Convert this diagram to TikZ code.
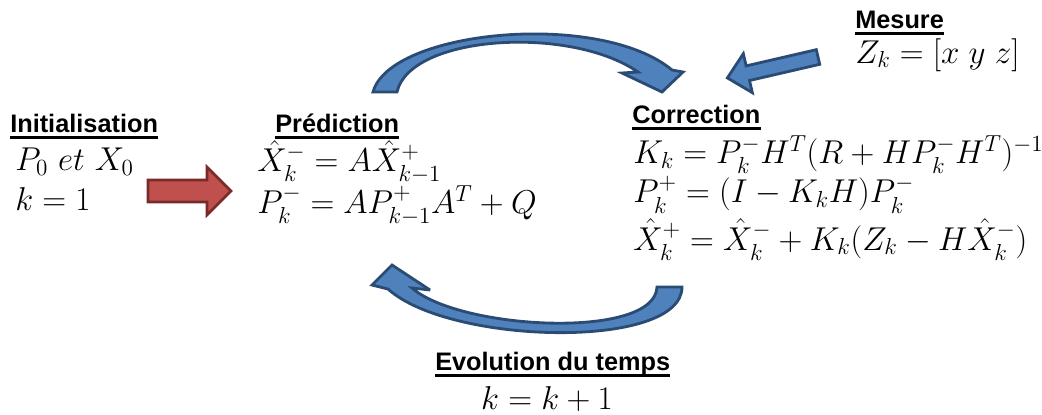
\documentclass[tikz,border=0pt]{standalone}
\usepackage{fix-cm}
\usepackage{fontspec}
\usepackage{amsmath}
\newfontfamily\titrefont{Liberation Sans}
\definecolor{FlecheBleue}{HTML}{4F81BD}
\definecolor{BordBleu}{HTML}{2A4B73}
\definecolor{FlecheRouge}{HTML}{C0504D}
\definecolor{BordRouge}{HTML}{7A2B29}

\begin{document}
\begin{tikzpicture}[x=0.025cm, y=-0.025cm,
    titre/.style={font=\titrefont\bfseries\fontsize{18}{20}\selectfont, inner sep=0pt, anchor=base west},
    formule/.style={font=\fontsize{23.5}{28}\selectfont, inner sep=0pt, anchor=base west, align=left},
    souligne/.style={line width=2pt},
    bleue/.style={fill=FlecheBleue, draw=BordBleu, line width=2pt, miter limit=4},
    rouge/.style={fill=FlecheRouge, draw=BordRouge, line width=2pt}]
  \useasboundingbox (0,0) rectangle (1042,415);

  % blocs (ancre = ligne de base de la derniere ligne)
  \node[titre] (init) at (10,132) {Initialisation};
  \node[formule] (initeq) at (15,210) {$P_0\ et\ X_0$\\$k=1$};

  \node[titre] (pred) at (275,132) {Prédiction};
  \node[formule] (predeq) at (257,213) {$\hat{X}_k^- = A\hat{X}_{k-1}^+$\\
    $P_k^- = AP_{k-1}^+A^T + Q$};

  \node[titre] (corr) at (632,123) {Correction};
  \node[formule] (correq) at (633,250) {$K_k = P_k^- H^T(R + HP_k^-H^T)^{-1}$\\
    $P_k^+ = (I - K_kH)P_k^-$\\[3pt]
    $\hat{X}_k^+ = \hat{X}_k^- + K_k(Z_k - H\hat{X}_k^-)$};

  \node[titre] (mes) at (855,28) {Mesure};
  \node[formule] (meseq) at (855,63) {$Z_k = [x\;y\;z]$};

  \node[titre] (evol) at (435,370) {Evolution du temps};
  \node[formule, anchor=base] (evoleq) at (547,409) {$k = k + 1$};

  % soulignements
  \foreach \n in {init,pred,corr,mes,evol}
    \draw[souligne] ([yshift=-0.14cm]\n.base west) -- ([yshift=-0.14cm]\n.base east);

  % fleches
  \draw[rouge] (148,180) -- (207,180) -- (207,167) -- (231,191) -- (207,215)
    -- (207,202) -- (148,202) -- cycle;

  \begin{scope}[shift={(818,57)}, rotate=193]
    \draw[bleue] (0,-7.5) -- (72,-7.5) -- (72,-20) -- (93,0) -- (72,20)
      -- (72,7.5) -- (0,7.5) -- cycle;
  \end{scope}

  \draw[bleue] (373,92) .. controls (390,30) and (600,10) .. (672,70) -- (683,72)
    -- (662,92) -- (622,73) -- (638,72) .. controls (570,25) and (410,35) .. (397,92) -- cycle;

  \draw[bleue] (682,287) .. controls (682,350) and (450,345) .. (388,289) -- (372,285)
    -- (392,265) -- (430,290) -- (412,288) .. controls (460,330) and (655,340) .. (657,287) -- cycle;
\end{tikzpicture}
\end{document}
